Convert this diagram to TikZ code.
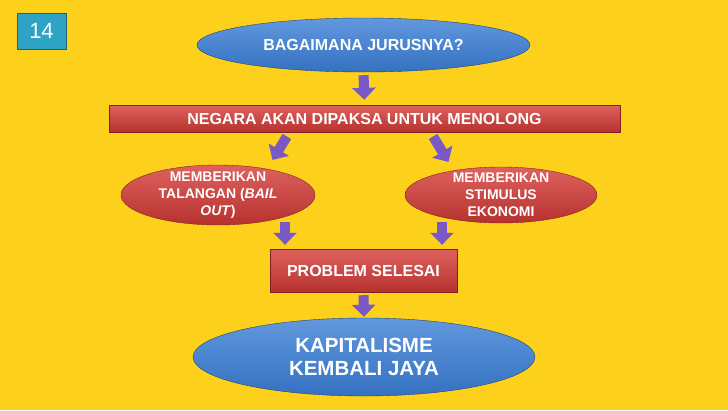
\documentclass[tikz,border=0pt]{standalone}
\usepackage{fontspec}
\setmainfont{Liberation Sans}
\usepackage{xcolor}
\usetikzlibrary{shapes,arrows.meta,positioning}
\definecolor{bgyellow}{HTML}{FDD11B}
\definecolor{boxred}{HTML}{D63A36}
\definecolor{boxblue}{HTML}{3A7ED6}
\definecolor{numteal}{HTML}{2EA3C3}
\definecolor{flowpurple}{HTML}{7A58C6}
\tikzset{>={Triangle[width=23pt,length=12pt]}}

\begin{document}
\begin{tikzpicture}[x=1pt, y=-1pt,
              redbox/.style={rectangle, top color=boxred!80!white, bottom color=boxred!85!black, draw=boxred!60!black, text=white, font=\bfseries\fontsize{16}{18}\selectfont},
              redoval/.style={ellipse, top color=boxred!80!white, bottom color=boxred!85!black, draw=boxred!60!black, text=white, align=center, inner xsep=0pt, inner ysep=-8pt, font=\bfseries\fontsize{14}{17}\selectfont},
              blueoval/.style={ellipse, top color=boxblue!80!white, bottom color=boxblue!90!black, draw=boxblue!55!black, text=white, align=center, inner sep=0pt},
              flow/.style={->, line width=10pt, draw=flowpurple},
             ]
\fill[bgyellow] (0,0) rectangle (728,410);
\useasboundingbox (0,0) rectangle (728,410);

\node[rectangle, fill=numteal, draw=numteal!60!black, text=white, minimum width=49pt, minimum height=36pt, font=\fontsize{22}{24}\selectfont] (num) at (41.5,31) {14};

\node[blueoval, minimum width=333pt, minimum height=54pt, font=\bfseries\fontsize{16}{18}\selectfont] (tanya) at (363.5,45) {BAGAIMANA JURUSNYA?};
\node[redbox, minimum width=511pt, minimum height=27pt] (negara) at (364.5,118.5) {NEGARA AKAN DIPAKSA UNTUK MENOLONG};
\node[redoval, minimum width=194pt, minimum height=60pt] (kiri) at (218,195) {MEMBERIKAN\\TALANGAN (\textit{BAIL}\\\textit{OUT})};
\node[redoval, minimum width=192pt, minimum height=56pt] (kanan) at (501,195) {MEMBERIKAN\\STIMULUS\\EKONOMI};
\node[redbox, minimum width=187pt, minimum height=43pt] (selesai) at (363.5,270.5) {PROBLEM SELESAI};
\node[blueoval, minimum width=342pt, minimum height=78pt, font=\bfseries\fontsize{20.5}{23}\selectfont] (jaya) at (364,357) {KAPITALISME\\KEMBALI JAYA};

% arrows between the boxes
\draw[flow, shorten <=3pt, shorten >=5pt] (tanya.south) -- (negara.north);
\draw[flow, shorten <=5pt, shorten >=1pt] ([xshift=-75pt]negara.south) -- ([xshift=54pt,yshift=4pt]kiri.north);
\draw[flow, shorten <=5pt, shorten >=1pt] ([xshift=66pt]negara.south) -- ([xshift=-52pt,yshift=4pt]kanan.north);
\draw[flow, shorten <=-3pt, shorten >=4pt] ([xshift=67pt]kiri.south) -- (selesai.north -| 285,0);
\draw[flow, shorten <=-1pt, shorten >=4pt] ([xshift=-59pt]kanan.south) -- (selesai.north -| 442,0);
\draw[flow, shorten <=3pt, shorten >=1pt] (selesai.south) -- (jaya.north);
\end{tikzpicture}
\end{document}
